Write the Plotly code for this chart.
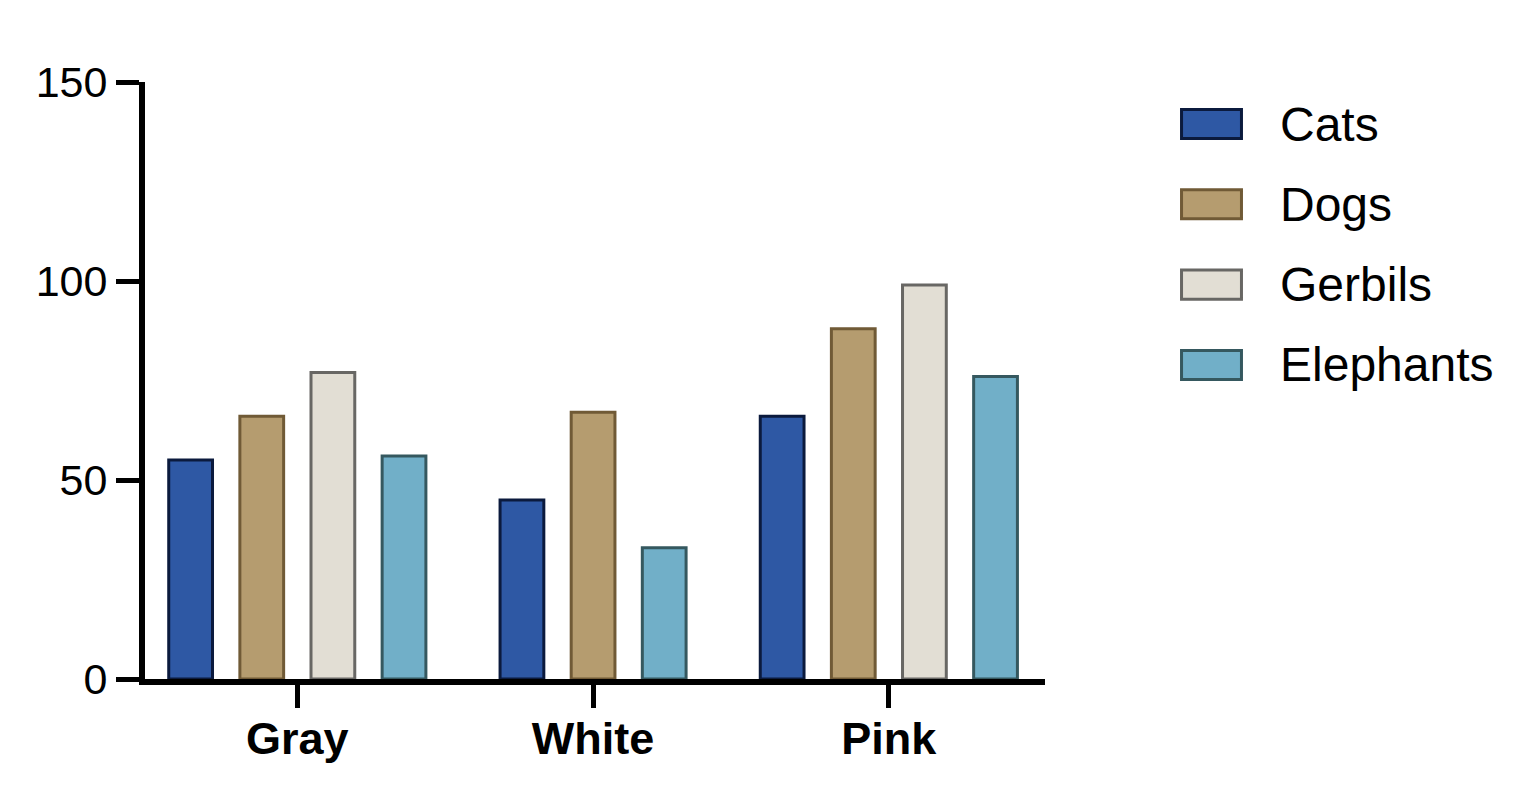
import plotly.graph_objects as go

# Data; None = no bar in that group
categories = ['Gray', 'White', 'Pink']
series_names = ['Cats', 'Dogs', 'Gerbils', 'Elephants']
cats = [55, 45, 66]
dogs = [66, 67, 88]
gerbils = [77, None, 99]
elephants = [56, 33, 76]
y_ticks = [0, 50, 100, 150]

fill_colors = ['#2E58A4', '#B59C6F', '#E2DED4', '#71AFC8']
line_colors = ['#0B1A3D', '#705A36', '#686764', '#35585F']

FONT = 'Liberation Sans, Arial, sans-serif'
BAR_STEP = 0.2405   # spacing between bars inside a group (category units)
BAR_WIDTH = 0.148

all_series = [cats, dogs, gerbils, elephants]

# Prism-style grouping: missing bars are dropped and the rest re-centred
positions = [[None] * len(categories) for _ in all_series]
for ci in range(len(categories)):
    present = [si for si, s in enumerate(all_series) if s[ci] is not None]
    n = len(present)
    for j, si in enumerate(present):
        positions[si][ci] = ci + (j - (n - 1) / 2) * BAR_STEP

fig = go.Figure()
for si, name in enumerate(series_names):
    xs = [positions[si][ci] for ci in range(len(categories)) if all_series[si][ci] is not None]
    ys = [v for v in all_series[si] if v is not None]
    fig.add_trace(go.Bar(
        x=xs, y=ys, name=name, width=BAR_WIDTH,
        marker=dict(color=fill_colors[si], line=dict(color=line_colors[si], width=3)),
    ))

# hand-made legend with big boxes, like the original
shapes = []
annotations = []
for si, name in enumerate(series_names):
    yc = 0.9296 - si * 0.1345
    shapes.append(dict(type='rect', xref='paper', yref='paper',
                       x0=1.1517, x1=1.2183, y0=yc - 0.0243, y1=yc + 0.0243,
                       fillcolor=fill_colors[si], line=dict(color=line_colors[si], width=3)))
    annotations.append(dict(text=name, xref='paper', yref='paper', x=1.259, y=yc,
                            xanchor='left', yanchor='middle', showarrow=False,
                            font=dict(family=FONT, size=48, color='black')))

# page body has an 8px margin, so the figure is a bit smaller than the window
fig.update_layout(
    width=1523, height=786,
    margin=dict(l=137, r=486, t=74, b=115),
    plot_bgcolor='white', paper_bgcolor='white',
    showlegend=False,
    shapes=shapes, annotations=annotations,
    font=dict(family=FONT, color='black'),
)
fig.update_xaxes(
    type='linear', range=[-0.515, 2.528],
    tickmode='array', tickvals=list(range(len(categories))), ticktext=categories,
    showline=True, linewidth=6, linecolor='black',
    ticks='outside', ticklen=23, tickwidth=5, tickcolor='black',
    tickfont=dict(family=FONT, size=45, weight='bold'),
    ticklabelstandoff=-8,
    showgrid=False, zeroline=False,
)
fig.update_yaxes(
    range=[0, 150], tickmode='array', tickvals=y_ticks,
    showline=True, linewidth=6, linecolor='black',
    ticks='outside', ticklen=23, tickwidth=5, tickcolor='black',
    tickfont=dict(family=FONT, size=43),
    showgrid=False, zeroline=False,
)

fig.write_html("out.html")
